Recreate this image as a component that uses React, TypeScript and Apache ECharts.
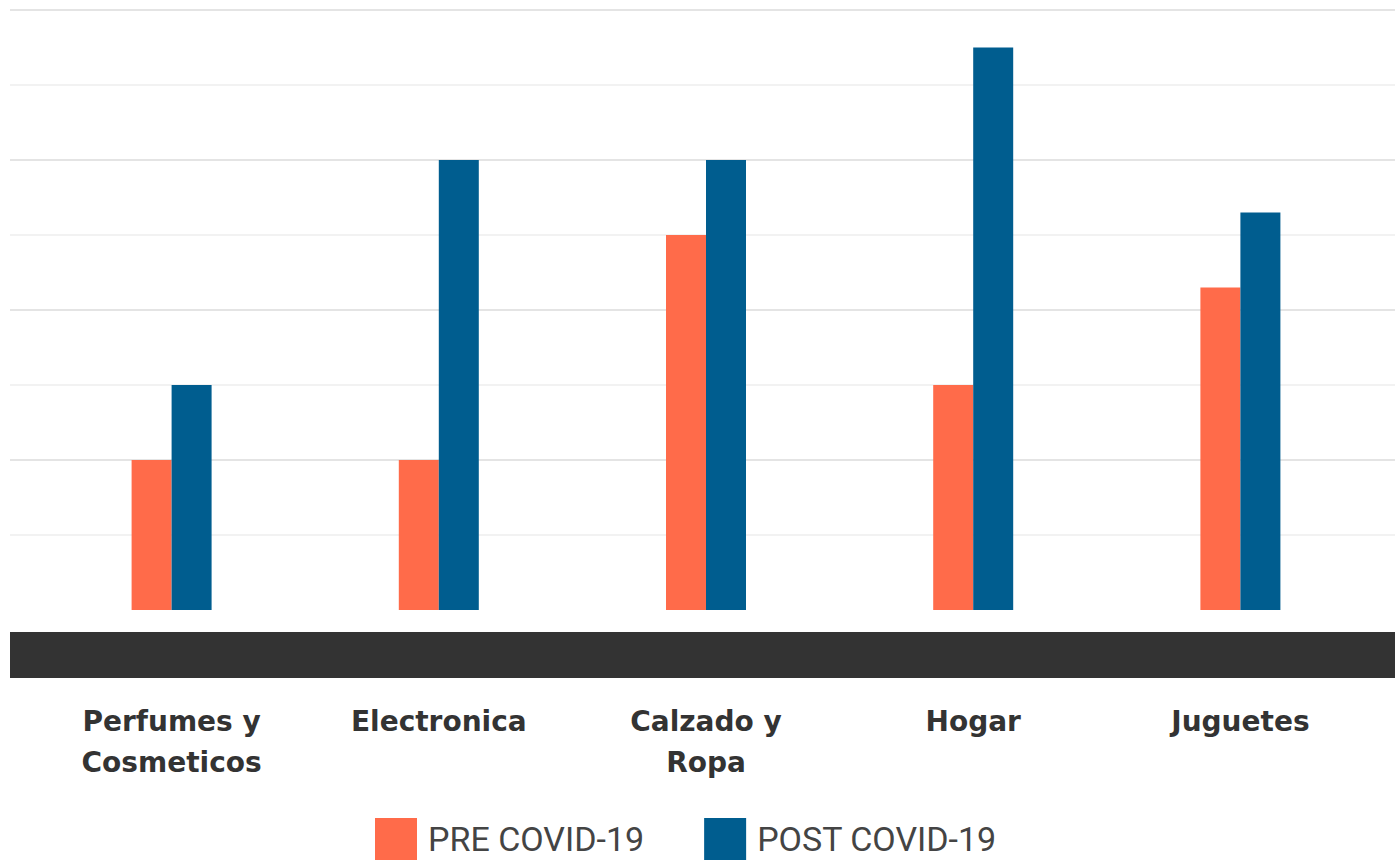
import React, { useEffect, useRef } from "react";
import * as echarts from "echarts";

const categories = ["Perfumes y\nCosmeticos", "Electronica", "Calzado y\nRopa", "Hogar", "Juguetes"];
const preCovid = [2, 2, 5, 3, 4.3];
const postCovid = [3, 6, 6, 7.5, 5.3];
const seriesNames = ["PRE COVID-19", "POST COVID-19"];

const DARK = "#e4e4e4";
const LIGHT = "#f2f2f2";

export default function App() {
  const ref = useRef<HTMLDivElement>(null);
  useEffect(() => {
    if (!ref.current) return;
    const chart = echarts.init(ref.current, undefined, { renderer: "svg" });
    const top = 10;
    const bottom = 252;
    chart.setOption({
      animation: false,
      backgroundColor: "#ffffff",
      grid: [
        { left: 38, right: 21, top, bottom },
        { left: 10, right: 0, top, bottom },
      ],
      xAxis: [
        {
          type: "category",
          gridIndex: 0,
          data: categories,
          offset: 45,
          axisLine: { show: false },
          axisTick: { show: false },
          axisLabel: {
            margin: 46,
            interval: 0,
            fontFamily: "DejaVu Sans",
            fontWeight: "bold",
            fontSize: 28,
            lineHeight: 41,
            color: "#333333",
          },
        },
        {
          type: "value",
          gridIndex: 1,
          min: 0,
          max: 1,
          offset: 45,
          axisLine: { show: true, onZero: false, lineStyle: { color: "#333333", width: 46, cap: "butt" } },
          axisTick: { show: false },
          axisLabel: { show: false },
          splitLine: { show: false },
        },
      ],
      yAxis: [
        {
          type: "value",
          gridIndex: 0,
          min: 0,
          max: 8,
          interval: 1,
          axisLine: { show: false },
          axisTick: { show: false },
          axisLabel: { show: false },
          splitLine: { show: false },
        },
        {
          type: "value",
          gridIndex: 1,
          min: 0,
          max: 8,
          interval: 1,
          axisLine: { show: false },
          axisTick: { show: false },
          axisLabel: { show: false },
          splitLine: {
            show: true,
            lineStyle: {
              color: ["rgba(0,0,0,0)", LIGHT, DARK, LIGHT, DARK, LIGHT, DARK, LIGHT, DARK],
              width: 2,
            },
          },
        },
      ],
      legend: {
        left: 370,
        top: 813,
        itemWidth: 42,
        itemHeight: 42,
        itemGap: 60,
        icon: "rect",
        data: seriesNames,
        textStyle: {
          fontFamily: "Roboto",
          fontSize: 34,
          color: "#444444",
          padding: [0, 0, 0, 6],
        },
      },
      series: [
        {
          name: seriesNames[0],
          type: "bar",
          xAxisIndex: 0,
          yAxisIndex: 0,
          data: preCovid,
          barWidth: 40,
          barGap: "0%",
          itemStyle: { color: "#FF6B4A" },
          z: 3,
        },
        {
          name: seriesNames[1],
          type: "bar",
          xAxisIndex: 0,
          yAxisIndex: 0,
          data: postCovid,
          barWidth: 40,
          barGap: "0%",
          itemStyle: { color: "#005D8F" },
          z: 3,
        },
      ],
    });
    return () => chart.dispose();
  }, []);
  return (
    <div
      ref={ref}
      style={{ position: "fixed", left: 0, top: 0, width: 1395, height: 862, background: "#fff" }}
    />
  );
}
